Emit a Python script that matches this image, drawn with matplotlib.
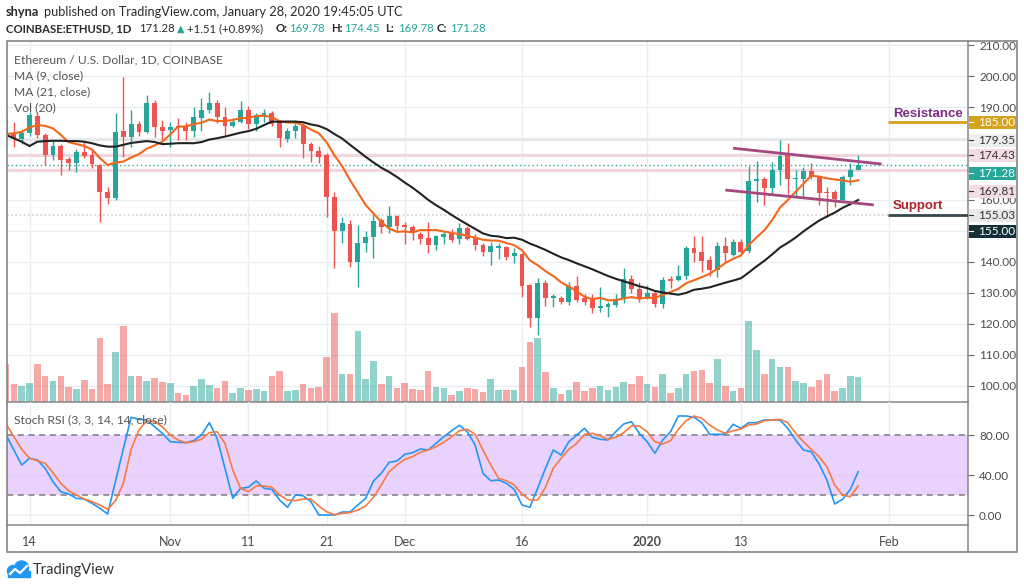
import numpy as np
import pandas as pd
import matplotlib
matplotlib.use("Agg")
import matplotlib.pyplot as plt
from matplotlib.patches import Rectangle, Circle
from matplotlib.lines import Line2D
from matplotlib.transforms import IdentityTransform, blended_transform_factory

plt.rcParams['font.family'] = ['Lato', 'DejaVu Sans']

# ---------------- data ----------------
dates = pd.date_range("2019-10-11", "2020-01-28", freq="D")

opens = [186.0, 181.6, 179.7, 181.5, 187.0, 181.0, 174.5, 177.4, 173.1, 172.0, 175.6, 174.5, 171.3, 162.7, 160.5,
         182.2, 180.4, 184.5, 182.0, 191.2, 183.7, 182.6, 183.9, 183.9, 182.2, 186.4, 189.0, 191.4, 186.7, 183.9,
         185.3, 189.0, 184.4, 187.1, 188.0, 185.3, 179.6, 182.4, 184.2, 178.1, 175.8, 174.5, 161.0, 150.1, 152.2,
         140.1, 146.2, 148.0, 153.5, 151.2, 154.8, 151.9, 151.2, 149.0, 147.6, 145.5, 148.2, 149.5, 147.4, 150.9,
         148.0, 145.5, 143.3, 144.4, 144.7, 141.9, 142.6, 132.6, 121.8, 133.1, 128.3, 128.5, 127.2, 132.3, 128.3,
         128.3, 125.1, 125.4, 126.1, 128.0, 134.4, 131.2, 128.3, 130.1, 126.5, 134.4, 134.2, 135.5, 144.4, 143.3,
         140.6, 137.4, 145.2, 142.3, 146.5, 143.6, 166.0, 166.7, 163.8, 169.7, 174.5, 166.7, 166.7, 169.5, 167.7,
         162.7, 162.7, 160.0, 167.5, 169.78]
highs = [192.3, 185.2, 182.5, 188.5, 188.3, 181.5, 179.4, 178.0, 174.0, 176.5, 178.8, 176.0, 171.5, 164.3, 188.0,
         199.8, 188.9, 185.5, 193.9, 192.3, 185.8, 185.3, 186.5, 185.0, 189.9, 192.8, 195.0, 192.3, 189.9, 186.5,
         192.0, 190.3, 188.0, 189.2, 188.8, 185.8, 183.2, 185.8, 184.7, 178.7, 177.5, 175.0, 162.7, 154.4, 153.5,
         151.9, 150.1, 156.2, 154.1, 158.1, 155.2, 153.0, 152.0, 149.8, 153.0, 148.7, 150.1, 150.5, 152.5, 151.5,
         149.0, 146.0, 146.5, 146.0, 145.2, 144.4, 143.0, 133.0, 134.7, 134.2, 129.8, 129.0, 133.5, 135.5, 129.5,
         129.5, 132.0, 127.2, 129.5, 138.0, 135.8, 133.4, 132.6, 130.6, 135.0, 135.5, 139.0, 145.0, 148.4, 148.4,
         141.9, 146.5, 148.2, 147.3, 147.3, 171.0, 172.5, 167.5, 172.4, 179.4, 178.3, 169.7, 170.5, 171.8, 168.0,
         164.3, 163.3, 168.0, 171.8, 174.45]
lows = [180.0, 177.1, 178.0, 180.5, 180.0, 171.3, 172.9, 168.0, 169.7, 169.1, 173.5, 170.3, 153.0, 158.7, 160.0,
        173.8, 177.2, 180.5, 181.5, 180.4, 179.1, 177.2, 179.4, 179.4, 180.4, 182.2, 188.2, 184.7, 181.0, 183.5,
        184.7, 182.9, 182.4, 185.0, 184.0, 177.2, 178.6, 180.0, 173.4, 172.4, 172.0, 154.6, 138.0, 146.2, 138.5,
        131.8, 143.3, 141.2, 149.5, 149.5, 149.7, 145.8, 147.2, 145.8, 143.0, 144.0, 145.8, 146.5, 145.8, 147.0,
        144.0, 141.9, 139.0, 141.0, 140.5, 139.6, 128.8, 119.1, 116.5, 125.8, 125.6, 126.5, 126.0, 127.0, 126.0,
        123.4, 124.0, 122.2, 125.5, 126.8, 130.0, 127.0, 128.0, 125.6, 125.0, 131.6, 134.0, 134.5, 140.1, 136.9,
        135.5, 135.3, 139.6, 142.0, 142.8, 143.0, 159.5, 158.4, 162.0, 164.8, 162.0, 161.1, 161.0, 166.7, 158.4,
        154.4, 157.6, 159.5, 164.8, 169.78]
closes = [181.0, 180.0, 181.7, 187.4, 181.0, 174.5, 177.4, 172.9, 172.0, 175.6, 174.2, 171.5, 162.7, 160.5, 181.8,
          180.4, 184.5, 182.0, 191.2, 183.7, 182.4, 183.7, 183.5, 182.2, 186.7, 189.0, 191.2, 186.7, 183.9, 185.3,
          189.0, 184.4, 187.4, 188.0, 184.4, 180.0, 182.4, 183.9, 178.1, 175.8, 174.0, 161.0, 150.1, 152.5, 140.1,
          146.0, 147.9, 153.3, 151.2, 154.8, 151.6, 151.2, 149.4, 147.3, 145.5, 148.4, 149.0, 147.1, 150.9, 147.4,
          145.5, 143.3, 145.2, 145.0, 141.5, 142.8, 132.3, 121.8, 133.1, 128.3, 129.0, 127.2, 132.3, 127.7, 127.2,
          125.1, 125.8, 126.3, 128.0, 134.4, 131.2, 128.0, 130.1, 126.5, 134.2, 134.0, 135.5, 144.4, 143.0, 140.4,
          137.4, 145.1, 142.8, 146.5, 143.3, 166.0, 166.7, 163.8, 169.7, 174.2, 166.7, 167.0, 169.5, 167.5, 162.4,
          162.2, 160.2, 167.5, 169.78, 171.28]
# moving-average values for the first days (their look-back lies before the visible range)
ma9_head = [181.3, 181.5, 182.0, 183.4, 184.2, 183.9, 183.1, 181.0]
ma21_head = [181.0, 179.9, 178.8, 177.4, 178.8, 179.0, 179.1, 179.1, 179.0, 179.0, 178.8, 178.3, 177.6, 177.2,
             177.2, 177.8, 178.4, 178.7, 179.0, 178.7]
volume = [38, 18, 16, 19, 38, 26, 21, 26, 15, 13, 22, 13, 64, 18, 50, 76, 26, 26, 21, 24, 20,
          19, 9, 7, 16, 23, 17, 14, 21, 9, 14, 12, 13, 11, 26, 31, 11, 12, 18, 14, 15, 45, 89, 28, 28,
          71, 23, 41, 18, 26, 14,
          19, 13, 12, 31, 15, 14, 7, 11, 14, 13, 10, 23, 12, 12, 12, 35, 60, 64, 30, 14, 8, 12, 20, 11,
          14, 16, 12, 15, 20, 18, 26,
          18, 15, 28, 9, 14, 28, 31, 32, 19, 43, 16, 11, 14, 81, 52, 28, 43, 35, 35, 21, 19, 15, 22, 28,
          11, 14, 26, 25]
stoch_k = [80, 65, 50, 56.7, 55, 46.7, 33.3, 23.3, 21, 16.7, 16, 11.7, 6.7, 1, 34, 66, 97.7, 95.7, 95, 88.3, 81.7,
           73.3, 72.7, 72.3, 74.3, 80, 92.3, 76.7, 46.7, 16.7, 26.7, 27.7, 34, 26.7, 25.7, 15, 7.7, 20, 19.3, 13.3,
           0, 0, 0, 3, 3, 10, 16.7, 34, 41.7, 52.7, 54,
           60.7, 62.3, 66, 65, 71.7, 78.3, 84.3, 89.7, 83.3, 70, 41.7, 34.3, 35, 31.7, 25.7, 10, 7.7, 26.7, 46.7,
           65, 60, 73.3, 80, 86.7, 77.7, 75.7, 75, 83.3, 91, 93.3, 81.7,
           73.3, 61.7, 75, 83.3, 99, 99, 97.7, 92.3, 80.7, 80.7, 80.7, 90.7, 86.7, 92.3, 92.3, 95, 95, 95, 86.7,
           75, 65, 63.3, 51, 35, 11, 15.7, 25.7, 43.3]
stoch_d = [91, 78.3, 65.7, 56.7, 54.3, 51.7, 42.3, 31.7, 24.3, 20, 16, 13.3, 10, 5.7, 14.3, 31.7, 65.7, 85, 94.3,
           93.3, 88.3,
           80, 75, 72.3, 73.3, 75.7, 82.3, 83.3, 71.7, 45, 26.7, 23.3, 29, 29, 27.7, 20, 15, 14.3, 16, 16, 9, 3.3,
           0.3, 1.7, 2.3, 5, 9, 17.7, 30, 43.3, 50,
           55.7, 58.3, 62.7, 65, 68.3, 72.7, 78.3, 84.3, 85.7, 80.7, 65, 50, 36.7, 34.3, 30, 21, 15, 15, 27.7,
           46.7, 56.7, 65.7, 71.7, 80.7, 81.7, 79, 75.7, 77.7, 82.3, 89, 89,
           83.3, 73.3, 71, 74.3, 85.7, 94.3, 99, 96.7, 90, 85, 81.7, 84.3, 86, 90, 91, 94.3, 95, 95.7, 92.3,
           81.7, 73.3, 65.7, 58.3, 48.3, 30, 20, 18.3, 29]

tick_dates = ["2019-10-14", "2019-11-01", "2019-11-11", "2019-11-21", "2019-12-01",
              "2019-12-16", "2020-01-01", "2020-01-13", "2020-02-01"]
tick_labels = ["14", "Nov", "11", "21", "Dec", "16", "2020", "13", "Feb"]
price_ticks = [100, 110, 120, 130, 140, 160, 190, 200, 210]
stoch_ticks = [0, 40, 80]

# drawn annotations (channel lines, levels)
upper_channel = (["2020-01-12", "2020-01-31"], [176.7, 171.6])
lower_channel = (["2020-01-11", "2020-01-30"], [163.2, 158.4])
resistance = 185.00
support = 155.00
level_start = "2020-01-31 20:00"
line_179 = 179.35
line_155 = 155.03
high_line = 174.43
low_line = 169.81
prev_close = 169.77
last_o, last_h, last_l, last_c = 169.78, 174.45, 169.78, 171.28

# ---------------- setup ----------------
origin = pd.Timestamp("2019-10-14")
def dx(d):
    return (pd.Timestamp(d) - origin) / pd.Timedelta(days=1)

x = np.asarray((dates - origin).days, dtype=float)
o, h, l, c = map(np.asarray, (opens, highs, lows, closes))
up = c >= o
UP, DN = '#26a69a', '#ef5350'
cols = np.where(up, UP, DN)
ma9 = pd.Series(c).rolling(9).mean().to_numpy()
ma9[:len(ma9_head)] = ma9_head
ma21 = pd.Series(c).rolling(21).mean().to_numpy()
ma21[:len(ma21_head)] = ma21_head

W, H = 1024, 587
fig = plt.figure(figsize=(W / 100, H / 100), dpi=100)
fig.patch.set_facecolor('white')
L, R, T, BM, BS, BD, RE = 7, 968, 41, 402, 525, 552, 1017
ax = fig.add_axes([L / W, 1 - BM / H, (R - L) / W, (BM - T) / H])
ax2 = fig.add_axes([L / W, 1 - BS / H, (R - L) / W, (BS - BM) / H], sharex=ax)

xmin, xmax = -2.88, 120.05
ax.set_xlim(xmin, xmax)
ax.set_ylim(94.8, 211.3)
ax2.set_ylim(-10, 113)

GRID = '#eaeef2'
FRAME = '#858585'
TXT = '#4a4a4a'
tx = [dx(d) for d in tick_dates]
for p in range(100, 211, 10):
    ax.axhline(p, color=GRID, lw=1, zorder=0)
for t in tx:
    ax.axvline(t, color=GRID, lw=1, zorder=0)
    ax2.axvline(t, color=GRID, lw=1, zorder=0)

# price level lines
ax.axhline(high_line, color='#f2d6df', lw=2.2, zorder=0.5)
ax.axhline(low_line, color='#f2d6df', lw=2.2, zorder=0.5)
ax.axhline(line_179, color='#e4e4e4', lw=1.3, zorder=0.5)
ax.axhline(line_155, color='#d8cccc', lw=1.2, ls=(0, (1, 1.5)), zorder=0.5)
ax.axhline(last_c, color=UP, lw=1, ls=(0, (1, 2)), zorder=0.6)

# volume (bottom of main pane)
tv = blended_transform_factory(ax.transData, ax.transAxes)
VOL_FULL = 361.0
ax.bar(x, np.asarray(volume) / VOL_FULL, width=0.84, bottom=0, color=cols, alpha=0.5,
       linewidth=0, transform=tv, zorder=1)

# candles
ax.vlines(x, l, h, colors=cols, lw=1, zorder=3)
ax.bar(x, np.maximum(np.abs(c - o), 0.35), bottom=np.minimum(o, c), width=0.62, color=cols,
       linewidth=0, zorder=4)

# moving averages
ax.plot(x, ma9, color='#f4661b', lw=1.5, zorder=5)
ax.plot(x, ma21, color='#222222', lw=1.5, zorder=5)

# channel lines
for xs, ps in (upper_channel, lower_channel):
    ax.plot([dx(v) for v in xs], ps, color='#a4487f', lw=2, zorder=6, solid_capstyle='butt')

# resistance / support levels
ls0 = dx(level_start)
ax.plot([ls0, xmax], [resistance, resistance], color='#d6a21c', lw=2, zorder=6, solid_capstyle='butt')
ax.plot([ls0, xmax], [line_155, line_155], color='#37474f', lw=2, zorder=6, solid_capstyle='butt')
ax.text(ls0 + 0.6, resistance + 2.6, "Resistance", color='#7e2a86', fontsize=9.5, fontweight='bold',
        family=['Liberation Sans', 'DejaVu Sans'], va='center', ha='left', zorder=7)
ax.text(ls0 + 0.6, line_155 + 3.0, "Support", color='#b1202e', fontsize=9.5, fontweight='bold',
        family=['Liberation Sans', 'DejaVu Sans'], va='center', ha='left', zorder=7)

# stoch RSI pane
ax2.axhspan(20, 80, color='#e9d2fd', zorder=0, lw=0)
ax2.axhline(0, color=GRID, lw=1.2, zorder=0.5)
ax2.axhline(40, color='#d6c2ea', lw=0.8, ls=(0, (1, 1.5)), zorder=0.5)
for lv in (20, 80):
    ax2.axhline(lv, color='#7b7b7b', lw=1.1, ls=(0, (4, 3)), zorder=1)
ax2.plot(x, stoch_k, color='#2196f3', lw=1.2, zorder=3)
ax2.plot(x, stoch_d, color='#f77a3f', lw=1.2, zorder=3)

# axes styling
for a in (ax, ax2):
    for s in ('left', 'top'):
        a.spines[s].set_visible(False)
    for s in ('right', 'bottom'):
        a.spines[s].set_color(FRAME)
        a.spines[s].set_linewidth(1.1)
    a.yaxis.tick_right()
    a.tick_params(axis='y', length=4, width=0.8, color='#666666', labelsize=8.5, labelcolor=TXT, pad=4)
    a.set_facecolor('none')

ax.set_yticks(price_ticks)
ax.set_yticklabels([f"{v:.2f}" for v in price_ticks])
ax.tick_params(axis='x', bottom=False, labelbottom=False)
ax2.set_yticks(stoch_ticks)
ax2.set_yticklabels([f"{v:.2f}" for v in stoch_ticks])
ax2.set_xticks(tx)
ax2.set_xticklabels(tick_labels)
ax2.tick_params(axis='x', length=0, labelsize=9, labelcolor=TXT, pad=8)
for lab in ax2.get_xticklabels():
    if lab.get_text() == "2020":
        lab.set_fontweight('bold')

ID = IdentityTransform()
# outer frame
fig.add_artist(Rectangle((L, H - BD), RE - L, BD - T, transform=ID, fill=False, ec=FRAME, lw=1.2, zorder=20))
fig.add_artist(Line2D([R, R], [H - BD, H - BS], transform=ID, color=FRAME, lw=1.1, zorder=20))

# right axis price boxes
def axis_box(price, text, fc, tc, shift=0.0):
    yd = ax.transData.transform((0, price))[1] - shift
    fig.add_artist(Rectangle((R + 1, yd - 6.5), RE - R - 2, 13, transform=ID, fc=fc, ec='none', zorder=10))
    fig.add_artist(Line2D([R + 1, R + 5], [yd, yd], transform=ID, color=tc, lw=0.8, zorder=11))
    fig.text(R + 10, yd, text, transform=ID, va='center', ha='left', fontsize=8.5, color=tc, zorder=12)

axis_box(resistance, f"{resistance:.2f}", '#d6a21c', 'white')
axis_box(line_179, f"{line_179:.2f}", '#eeeeee', '#333333')
axis_box(high_line, f"{high_line:.2f}", '#f3dce4', '#333333')
axis_box(last_c, f"{last_c:.2f}", UP, 'white', shift=8)
axis_box(low_line, f"{low_line:.2f}", '#f3dce4', '#333333', shift=21.5)
axis_box(line_155, f"{line_155:.2f}", '#e9e9e9', '#333333')
axis_box(support, f"{support:.2f}", '#13303a', 'white', shift=16)

# header
def ftext(xp, yp, s, **kw):
    kw.setdefault('fontsize', 9)
    kw.setdefault('color', '#2b2b2b')
    fig.text(xp, H - yp, s, transform=ID, va='baseline', ha='left', **kw)

ftext(6, 15.5, "shyna", fontweight='bold', fontsize=9.2)
ftext(44, 15.5, "published on TradingView.com, January 28, 2020 19:45:05 UTC", fontsize=9.2)
chg = last_c - prev_close
pct = chg / prev_close * 100
HS = 8.2
ftext(6, 32, "COINBASE:ETHUSD, 1D", fontweight='bold', fontsize=HS)
ftext(139, 32, f"{last_c:.2f}", fontsize=HS)
ftext(177, 32, "▲", color=UP, family=['DejaVu Sans'], fontsize=7)
ftext(187, 32, f"+{chg:.2f} (+{pct:.2f}%)", fontsize=HS)
for xp, lab, val in ((276, "O:", last_o), (331, "H:", last_h), (385, "L:", last_l), (437, "C:", last_c)):
    ftext(xp, 32, lab, fontweight='bold', fontsize=HS)
    ftext(xp + 13, 32, f"{val:.2f}", color=UP, fontsize=HS)

# legend inside chart
for yp, s in ((63, "Ethereum / U.S. Dollar, 1D, COINBASE"), (79.5, "MA (9, close)"),
              (95.5, "MA (21, close)"), (111.5, "Vol (20)")):
    ftext(14, yp, s, color='#555555', zorder=15, fontsize=8.7)
ftext(14, 423, "Stoch RSI (3, 3, 14, 14, close)", color='#555555', zorder=15, fontsize=8.7)

# TradingView logo
LOGO = '#2196f3'
fig.add_artist(Circle((13, H - 571), 5.5, transform=ID, color=LOGO, zorder=20))
fig.add_artist(Circle((21.5, H - 568), 7, transform=ID, color=LOGO, zorder=20))
fig.add_artist(Rectangle((7.5, H - 577), 22, 6, transform=ID, color=LOGO, zorder=20))
fig.add_artist(Line2D([10, 15, 20, 27], [H - 574, H - 569, H - 573, H - 566], transform=ID,
                      color='white', lw=1.6, zorder=21))
ftext(33, 574, "TradingView", fontsize=10.5, color='#333333')

fig.savefig("out.png", dpi=100, facecolor='white')
